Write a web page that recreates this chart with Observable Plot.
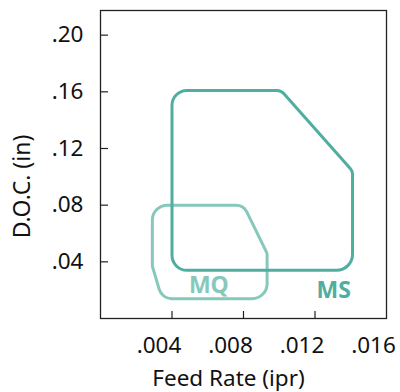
<!DOCTYPE html>
<html>
<head>
<meta charset="utf-8">
<script src="https://cdn.jsdelivr.net/npm/d3@7"></script>
<script src="https://cdn.jsdelivr.net/npm/@observablehq/plot@0.6"></script>
<style>
  html, body { margin: 0; padding: 0; background: #fff; }
  svg { font-family: "Noto Sans", sans-serif; }
</style>
</head>
<body>
<div id="chart"></div>
<script>
// Data
const xTicks = [0.004, 0.008, 0.012, 0.016];
const yTicks = [0.04, 0.08, 0.12, 0.16, 0.20];
const xInnerTicks = [0.004, 0.008, 0.012];
const xLabel = "Feed Rate (ipr)";
const yLabel = "D.O.C. (in)";

// Operating-window outlines: [feed rate (ipr), depth of cut (in)]
const msOutline = [[0.0040, 0.034], [0.0141, 0.034], [0.0141, 0.104], [0.0101, 0.161], [0.0040, 0.161]];
const msRadii = [15, 16, 9, 9, 15];
const mqOutline = [[0.00344, 0.014], [0.00932, 0.014], [0.00932, 0.046], [0.0080, 0.080], [0.0029, 0.080], [0.0029, 0.037]];
const mqRadii = [13, 15, 7, 12, 15, 10];

const labels = [
  {name: "MS", x: 0.01305, y: 0.0195, color: "#4fae9f"},
  {name: "MQ", x: 0.00606, y: 0.0230, color: "#86c8bb"}
];

// Closed polygon curve with rounded corners (per-vertex radius in px)
function roundedClosed(radii) {
  return (context) => {
    let pts;
    return {
      areaStart() {}, areaEnd() {},
      lineStart() { pts = []; },
      point(x, y) { pts.push([+x, +y]); },
      lineEnd() {
        const n = pts.length;
        if (!n) return;
        const a = pts[n - 1], b = pts[0];
        context.moveTo((a[0] + b[0]) / 2, (a[1] + b[1]) / 2);
        for (let i = 0; i < n; i++) {
          const p = pts[i], q = pts[(i + 1) % n];
          context.arcTo(p[0], p[1], q[0], q[1], radii[i] || 0);
        }
        context.closePath();
      }
    };
  };
}

const fmtX = d => d.toFixed(3).replace(/^0/, "");
const fmtY = d => d.toFixed(2).replace(/^0/, "");

const W = 400, H = 392, ML = 100, MR = 14, MT = 10, MB = 74;

const chart = Plot.plot({
  width: W, height: H,
  marginLeft: ML, marginRight: MR, marginTop: MT, marginBottom: MB,
  style: {fontFamily: "'Noto Sans', sans-serif", fontSize: "22px", color: "#111"},
  x: {domain: [0, 0.016]},
  y: {domain: [0, 0.2174]},
  marks: [
    Plot.frame({stroke: "#222", strokeWidth: 1.3}),
    Plot.tickY(yTicks, {y: d => d, stroke: "#222", strokeWidth: 1.2, insetRight: W - ML - MR - 8}),
    Plot.tickX(xInnerTicks, {x: d => d, stroke: "#222", strokeWidth: 1.2, insetTop: H - MT - MB - 7}),
    Plot.axisY({ticks: yTicks, tickSize: 0, tickPadding: 17, tickFormat: fmtY, fontSize: 22.5, fill: "#111", label: null}),
    Plot.axisX({ticks: xTicks, tickSize: 0, tickPadding: 18.5, tickFormat: fmtX, fontSize: 22.5, fill: "#111", dx: -13, label: null}),
    Plot.text([yLabel], {text: d => d, frameAnchor: "left", rotate: -90, dx: -78, dy: 22, fontSize: 23, fill: "#111", textAnchor: "middle", lineAnchor: "middle"}),
    Plot.text([xLabel], {text: d => d, frameAnchor: "bottom", dx: -15, dy: 60, fontSize: 22.5, fill: "#111", textAnchor: "middle", lineAnchor: "middle"}),
    Plot.line(mqOutline, {x: d => d[0], y: d => d[1], stroke: "#86c8bb", strokeWidth: 3, curve: roundedClosed(mqRadii)}),
    Plot.line(msOutline, {x: d => d[0], y: d => d[1], stroke: "#4fae9f", strokeWidth: 3, curve: roundedClosed(msRadii)}),
    Plot.text(labels, {x: "x", y: "y", text: "name", fill: "color", fontSize: 23, fontWeight: "bold", textAnchor: "middle", lineAnchor: "middle"})
  ]
});
document.getElementById("chart").appendChild(chart);
</script>
</body>
</html>
